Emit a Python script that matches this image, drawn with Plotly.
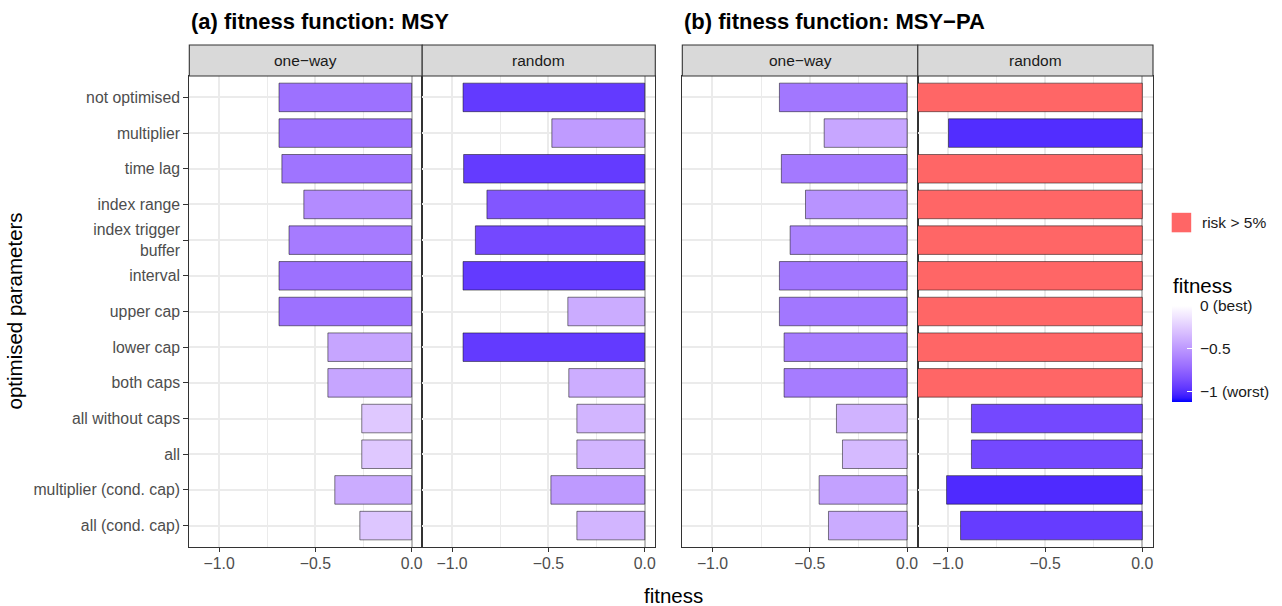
import plotly.graph_objects as go

# ---- data -------------------------------------------------------------
categories = [
    "not optimised", "multiplier", "time lag", "index range",
    "index trigger<br>buffer", "interval", "upper cap", "lower cap",
    "both caps", "all without caps", "all", "multiplier (cond. cap)",
    "all (cond. cap)",
]

msy_oneway = [-0.689, -0.689, -0.674, -0.560, -0.637, -0.689, -0.689,
              -0.435, -0.435, -0.259, -0.259, -0.399, -0.269]
msy_random = [-0.943, -0.482, -0.940, -0.819, -0.879, -0.943, -0.399,
              -0.943, -0.394, -0.352, -0.352, -0.487, -0.352]
msypa_oneway = [-0.656, -0.426, -0.646, -0.522, -0.601, -0.656, -0.656,
                -0.632, -0.632, -0.363, -0.332, -0.452, -0.404]
msypa_random = [-1.20, -0.997, -1.20, -1.20, -1.20, -1.20, -1.20,
                -1.20, -1.20, -0.879, -0.879, -1.007, -0.935]
msypa_random_risk = [True, False, True, True, True, True, True,
                     True, True, False, False, False, False]

x_ticks = [-1.0, -0.5, 0.0]
x_tick_labels = ["\u22121.0", "\u22120.5", "0.0"]
facet_labels = ["one\u2212way", "random"]
panel_titles = ["(a) fitness function: MSY", "(b) fitness function: MSY\u2212PA"]
colorbar_vals = [0, -0.5, -1]
colorbar_text = ["0 (best)", "\u22120.5", "\u22121 (worst)"]
risk_label = "risk > 5%"

# ---- colour scale: white -> blue interpolated in CIE Lab ---------------
def _srgb_to_lin(c):
    c = c / 255.0
    return c / 12.92 if c <= 0.04045 else ((c + 0.055) / 1.055) ** 2.4

def _lin_to_srgb(c):
    c = max(0.0, min(1.0, c))
    v = 12.92 * c if c <= 0.0031308 else 1.055 * c ** (1 / 2.4) - 0.055
    return int(round(max(0, min(1, v)) * 255))

WHITE_REF = (0.95047, 1.0, 1.08883)

def rgb_to_lab(rgb):
    r, g, b = (_srgb_to_lin(v) for v in rgb)
    x = 0.4124 * r + 0.3576 * g + 0.1805 * b
    y = 0.2126 * r + 0.7152 * g + 0.0722 * b
    z = 0.0193 * r + 0.1192 * g + 0.9505 * b
    def f(t):
        return t ** (1 / 3) if t > 216 / 24389 else (24389 / 27 * t + 16) / 116
    fx, fy, fz = f(x / WHITE_REF[0]), f(y / WHITE_REF[1]), f(z / WHITE_REF[2])
    return 116 * fy - 16, 500 * (fx - fy), 200 * (fy - fz)

def lab_to_rgb(lab):
    L, a, bb = lab
    fy = (L + 16) / 116
    fx = fy + a / 500
    fz = fy - bb / 200
    def finv(t):
        return t ** 3 if t ** 3 > 216 / 24389 else (116 * t - 16) / (24389 / 27)
    x, y, z = finv(fx) * WHITE_REF[0], finv(fy) * WHITE_REF[1], finv(fz) * WHITE_REF[2]
    r = 3.2406 * x - 1.5372 * y - 0.4986 * z
    g = -0.9689 * x + 1.8758 * y + 0.0415 * z
    b = 0.0557 * x - 0.2040 * y + 1.0570 * z
    return _lin_to_srgb(r), _lin_to_srgb(g), _lin_to_srgb(b)

low_lab = rgb_to_lab((0, 0, 255))
high_lab = rgb_to_lab((255, 255, 255))
n_stops = 24
fitness_scale = []
for i in range(n_stops + 1):
    t = i / n_stops
    lab = tuple(lo + (hi - lo) * t for lo, hi in zip(low_lab, high_lab))
    r, g, b = lab_to_rgb(lab)
    fitness_scale.append([t, f"rgb({r},{g},{b})"])

C_MIN, C_MAX = -1.117, 0.0
RISK_RED = "#FF6666"
BAR_LINE = dict(color="rgba(0,0,0,0.62)", width=0.8)

# ---- layout geometry (pixels) -----------------------------------------
W, H = 1282, 606
panel_x = [(189.3, 422.2), (422.2, 655.3), (682.3, 917.8), (917.8, 1153.0)]
panel_top, panel_bottom = 76.0, 547.0
strip_top = 45.0
x_range = [-1.155, 0.055]
y_range = [len(categories) - 0.4, -0.6]


def px_x(p):
    return p / W


def px_y(p):
    return 1 - p / H


fig = go.Figure()

panel_data = [msy_oneway, msy_random, msypa_oneway, msypa_random]
for k, vals in enumerate(panel_data):
    ax = "" if k == 0 else str(k + 1)
    if k == 3:
        cats_blue = [c for c, r in zip(categories, msypa_random_risk) if not r]
        vals_blue = [v for v, r in zip(vals, msypa_random_risk) if not r]
        cats_red = [c for c, r in zip(categories, msypa_random_risk) if r]
        vals_red = [v for v, r in zip(vals, msypa_random_risk) if r]
        fig.add_trace(go.Bar(
            x=vals_red, y=cats_red, orientation="h", width=0.8,
            marker=dict(color=RISK_RED, line=BAR_LINE),
            xaxis="x" + ax, yaxis="y" + ax, showlegend=False,
            hoverinfo="x+y",
        ))
    else:
        cats_blue, vals_blue = categories, vals
    fig.add_trace(go.Bar(
        x=vals_blue, y=cats_blue, orientation="h", width=0.8,
        marker=dict(
            color=vals_blue, colorscale=fitness_scale, cmin=C_MIN, cmax=C_MAX,
            line=BAR_LINE, showscale=(k == 0),
            colorbar=dict(
                tickvals=colorbar_vals,
                ticktext=["\u00a0" + t for t in colorbar_text],
                tickfont=dict(size=15.5, color="#1A1A1A"),
                ticks="inside", ticklen=5, tickcolor="white", tickwidth=1.2,
                thickness=19.5, thicknessmode="pixels",
                len=96, lenmode="pixels",
                x=px_x(1171.7), xanchor="left", xpad=0,
                y=px_y(402), yanchor="bottom", ypad=0,
                outlinewidth=0,
            ),
        ),
        xaxis="x" + ax, yaxis="y" + ax, showlegend=False, hoverinfo="x+y",
    ))

axis_font = dict(size=15.8, color="#4D4D4D")
common_x = dict(
    range=x_range, tickvals=x_ticks, ticktext=x_tick_labels,
    showgrid=True, gridcolor="#EBEBEB", gridwidth=1.6,
    minor=dict(tickvals=[-0.75, -0.25], showgrid=True,
               gridcolor="#EBEBEB", gridwidth=0.9, ticks=""),
    zeroline=True, zerolinecolor="#BEBEBE", zerolinewidth=1.6,
    showline=True, mirror=True, linecolor="#333333",
    linewidth=1.1, ticks="outside", ticklen=4, tickwidth=1.1,
    tickcolor="#333333", tickfont=axis_font, fixedrange=True,
    ticklabelstandoff=-2,
)
common_y = dict(
    range=y_range, type="category", categoryorder="array",
    categoryarray=categories, showgrid=True, gridcolor="#EBEBEB",
    gridwidth=1.6, zeroline=False, showline=True, mirror=True,
    linecolor="#333333", linewidth=1.1, fixedrange=True,
)

for k, (x0, x1) in enumerate(panel_x):
    sfx = "" if k == 0 else str(k + 1)
    xa = dict(common_x, domain=[px_x(x0), px_x(x1)], anchor="y" + sfx)
    ya = dict(common_y, domain=[px_y(panel_bottom), px_y(panel_top)],
              anchor="x" + sfx)
    if k == 0:
        ya.update(ticks="outside", ticklen=5, tickwidth=1.1,
                  tickcolor="#333333", tickfont=axis_font, showticklabels=True)
    else:
        ya.update(ticks="", showticklabels=False)
    fig.layout["xaxis" + sfx] = xa
    fig.layout["yaxis" + sfx] = ya

shapes = []
annotations = []
for k, (x0, x1) in enumerate(panel_x):
    # facet strip
    shapes.append(dict(
        type="rect", xref="paper", yref="paper",
        x0=px_x(x0), x1=px_x(x1), y0=px_y(panel_top), y1=px_y(strip_top),
        fillcolor="#D9D9D9", line=dict(color="#333333", width=1.1),
        layer="above",
    ))
    annotations.append(dict(
        text=facet_labels[k % 2], xref="paper", yref="paper",
        x=(px_x(x0) + px_x(x1)) / 2, y=px_y((panel_top + strip_top) / 2),
        showarrow=False, font=dict(size=15.5, color="#1A1A1A"),
        xanchor="center", yanchor="middle",
    ))

for i, px in enumerate([189.3, 682.3]):
    annotations.append(dict(
        text="<b>" + panel_titles[i] + "</b>", xref="paper", yref="paper",
        x=px_x(px), y=px_y(22), xanchor="left", yanchor="middle",
        showarrow=False, font=dict(size=22, color="#000000"),
    ))

annotations.append(dict(
    text="fitness", xref="paper", yref="paper", x=px_x(673.5), y=px_y(595),
    xanchor="center", yanchor="middle", showarrow=False,
    font=dict(size=20.5, color="#000000"),
))
annotations.append(dict(
    text="optimised parameters", xref="paper", yref="paper",
    x=px_x(14), y=px_y(311.5), xanchor="center", yanchor="middle",
    textangle=-90, showarrow=False, font=dict(size=20.5, color="#000000"),
))

# colour bar heading
annotations.append(dict(
    text="fitness", xref="paper", yref="paper", x=px_x(1170.5), y=px_y(285),
    xanchor="left", yanchor="middle", showarrow=False,
    font=dict(size=20.5, color="#000000"),
))

# key for bars flagged with risk above 5%
shapes.append(dict(
    type="rect", xref="paper", yref="paper",
    x0=px_x(1171.7), x1=px_x(1191.2), y0=px_y(232.3), y1=px_y(212.8),
    fillcolor=RISK_RED, line=dict(width=0), layer="above",
))
annotations.append(dict(
    text=risk_label, xref="paper", yref="paper", x=px_x(1200), y=px_y(222.5),
    xanchor="left", yanchor="middle", showarrow=False,
    font=dict(size=15.5, color="#1A1A1A"),
))

fig.update_layout(
    width=W, height=H, margin=dict(l=0, r=0, t=0, b=0),
    paper_bgcolor="white", plot_bgcolor="white",
    font=dict(family="Liberation Sans, Arial, Helvetica, sans-serif"),
    barmode="overlay", shapes=shapes, annotations=annotations,
    showlegend=False,
)

fig.write_html("out.html")
